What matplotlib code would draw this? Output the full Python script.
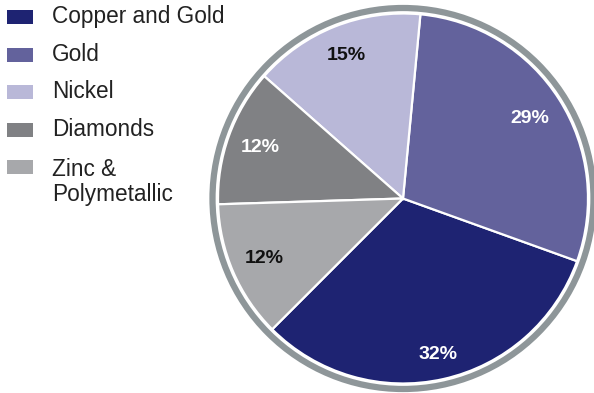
import numpy as np
import matplotlib
matplotlib.use("Agg")
import matplotlib.pyplot as plt
from matplotlib.patches import Circle, Rectangle

plt.rcParams["font.family"] = ["Liberation Sans", "DejaVu Sans"]

# data
labels = ["Copper and Gold", "Gold", "Nickel", "Diamonds", "Zinc &\nPolymetallic"]
shares = [32, 29, 15, 12, 12]
colors = ["#1e2372", "#63629c", "#b9b8d8", "#808184", "#a7a8ab"]
pct_colors = ["white", "white", "#111111", "white", "#111111"]

fig = plt.figure(figsize=(5.94, 3.93), dpi=100)
ax = fig.add_axes([0, 0, 1, 1])

cx, cy, r = 403, 194.5, 185
wedges, _ = ax.pie(shares, colors=colors, startangle=225, counterclock=True,
                   center=(cx, cy), radius=r, frame=True,
                   wedgeprops=dict(edgecolor="white", linewidth=1.6))
ax.set_xlim(0, 594)
ax.set_ylim(0, 393)
ax.set_aspect("equal")
ax.axis("off")

# grey outer ring
ax.add_patch(Circle((cx, cy), r + 5.5, fill=False, edgecolor="#8e9699", linewidth=4.5))

# percentage labels
dists = [0.865, 0.81, 0.83, 0.82, 0.82]
for w, v, c, d in zip(wedges, shares, pct_colors, dists):
    ang = np.deg2rad((w.theta1 + w.theta2) / 2)
    ax.text(cx + d * r * np.cos(ang), cy + d * r * np.sin(ang), f"{v}%",
            ha="center", va="center", fontsize=14, fontweight="bold", color=c)

# legend
for i, (lab, col) in enumerate(zip(labels, colors)):
    y = 393 - (17 + 37.5 * i)
    ax.add_patch(Rectangle((7, y - 7), 26, 14, facecolor=col, edgecolor="none"))
    if "\n" in lab:
        ax.text(52, y + 9, lab, ha="left", va="top", fontsize=16.3,
                color="#222222", linespacing=1.1)
    else:
        ax.text(52, y, lab, ha="left", va="center", fontsize=16.3, color="#222222")

fig.savefig("out.png", dpi=100)
